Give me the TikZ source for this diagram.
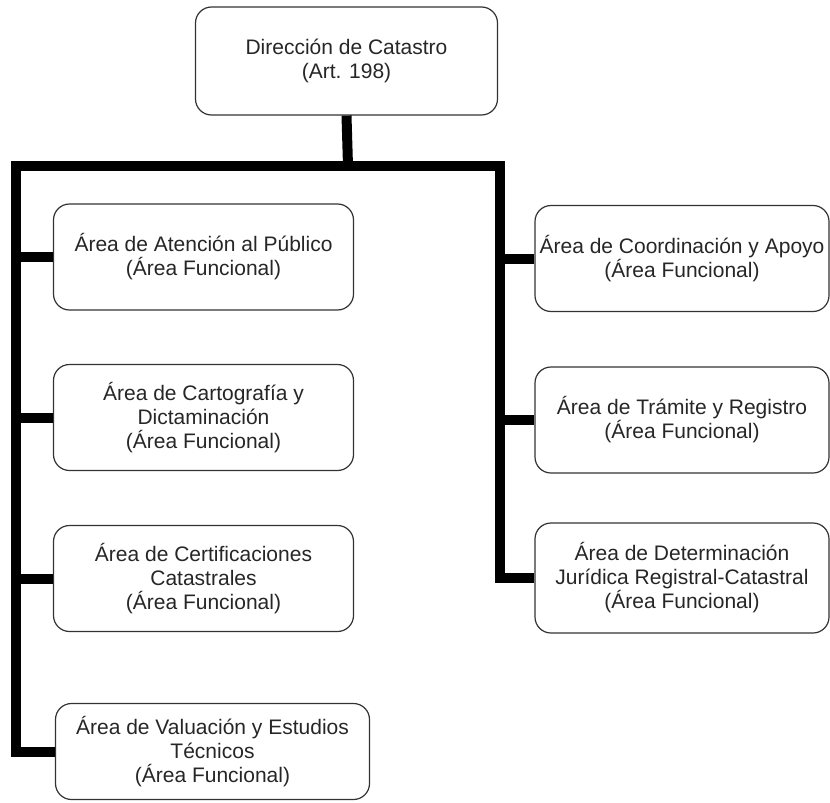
\documentclass[tikz,border=0pt]{standalone}
\usepackage{fontspec}
\setmainfont{Liberation Sans}
\usetikzlibrary{positioning}
\tikzset{area/.style={draw=black!80, line width=0.6pt, rounded corners=8pt, align=center,
    minimum width=150pt, minimum height=53pt, inner sep=2pt, text=black!85,
    font=\fontsize{10.5}{12}\selectfont}}
\tikzstyle{conn}=[line width=5pt, line join=miter, black]

\begin{document}
\begin{tikzpicture}[x=0.5pt, y=-0.5pt]
\useasboundingbox (0,0) rectangle (830,803);
\node[area, minimum width=151pt, minimum height=54pt] (dir) at (346.5,61) {Dirección de Catastro\\(Art. 198)};
% left column
\node[area] (atencion) at (203.5,257) {Área de Atención al Público\\(Área Funcional)};
\node[area] (carto) at (203.5,417.5) {Área de Cartografía y\\Dictaminación\\(Área Funcional)};
\node[area] (certif) at (203.5,578.5) {Área de Certificaciones\\Catastrales\\(Área Funcional)};
\node[area, minimum width=157pt, minimum height=48pt] (valua) at (212.5,751.5) {Área de Valuación y Estudios\\Técnicos\\(Área Funcional)};
% right column
\node[area, minimum width=147pt] (coord) at (682,258.5) {Área de Coordinación y Apoyo\\(Área Funcional)};
\node[area, minimum width=147pt] (tramite) at (682,420) {Área de Trámite y Registro\\(Área Funcional)};
\node[area, minimum width=147pt, minimum height=55pt] (juridica) at (682,578) {Área de Determinación\\Jurídica Registral-Catastral\\(Área Funcional)};
% connectors
\coordinate (hub) at (348,166);
\coordinate (lft) at (16,166);
\coordinate (rgt) at (500,166);
\draw[conn] (dir.south) -- (hub);
\draw[conn] (valua.west) -| (lft) -- (rgt) |- (juridica.west);
\foreach \n in {atencion,carto,certif}
  \draw[conn] (lft |- \n.west) -- (\n.west);
\foreach \n in {coord,tramite}
  \draw[conn] (rgt |- \n.west) -- (\n.west);
\end{tikzpicture}
\end{document}
